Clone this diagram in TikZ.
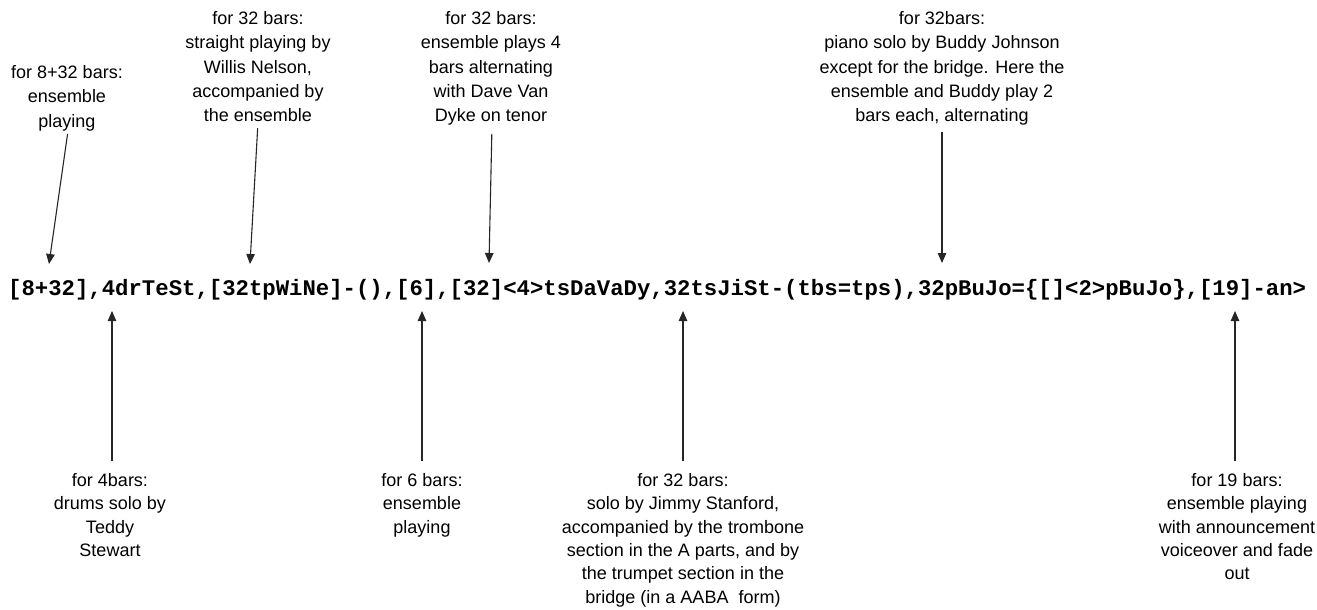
\documentclass[tikz,border=0pt]{standalone}
\usepackage{fontspec}
\usetikzlibrary{arrows.meta}
\newfontfamily\lblfont{Liberation Sans}
\newfontfamily\codefont{Liberation Mono}

\tikzset{
  lbl/.style={font=\lblfont\fontsize{18}{23.4}\selectfont, align=center, inner sep=0pt},
  toplbl/.style={lbl, font=\lblfont\fontsize{18}{24.4}\selectfont, anchor=north},
  botlbl/.style={lbl, anchor=north},
  code/.style={font=\codefont\bfseries\fontsize{22.3}{26}\selectfont, inner sep=0pt},
  arr/.style={line width=1.1pt, black!85, -{Triangle[length=10pt,width=8.5pt]}}
}

\begin{document}
\begin{tikzpicture}[x=1pt, y=-1pt]
    \fill[white] (0,0) rectangle (1317,610);
    \useasboundingbox (0,0) rectangle (1317,610);

    \node[code, anchor=base west] (form) at (8,295) {[8+32],4drTeSt,[32tpWiNe]-(),[6],[32]<4>tsDaVaDy,32tsJiSt-(tbs=tps),32pBuJo=\{[]<2>pBuJo\},[19]-an>};

    \node[toplbl] (intro) at (67,65) {for 8+32 bars:\\ensemble\\playing};
    \node[toplbl] (willis) at (258,11) {for 32 bars:\\straight playing by\\Willis Nelson,\\accompanied by\\the ensemble};
    \node[toplbl] (vandyke) at (491,11) {for 32 bars:\\ensemble plays 4\\bars alternating\\with Dave Van\\Dyke on tenor};
    \node[toplbl] (buddy) at (942,11) {for 32bars:\\piano solo by Buddy Johnson\\except for the bridge. Here the\\ensemble and Buddy play 2\\bars each, alternating};

    \node[botlbl] (teddy) at (110,473) {for 4bars:\\drums solo by\\Teddy\\Stewart};
    \node[botlbl] (sixbars) at (422,473) {for 6 bars:\\ensemble\\playing};
    \node[botlbl] (jimmy) at (683,473) {for 32 bars:\\solo by Jimmy Stanford,\\accompanied by the trombone\\section in the A parts, and by\\the trumpet section in the\\bridge (in a AABA\ \ form)};
    \node[botlbl] (outro) at (1237,473) {for 19 bars:\\ensemble playing\\with announcement\\voiceover and fade\\out};

    \coordinate (h1) at (49,264);
    \coordinate (h2) at (250,264);
    \coordinate (h3) at (489,263);
    \coordinate (h4) at (942,263);
    \coordinate (f1) at (112,311);
    \coordinate (f2) at (422,311);
    \coordinate (f3) at (683,311);
    \coordinate (f4) at (1235,311);

    \draw[arr, shorten <=3pt] ([xshift=1pt]intro.south) -- (h1);
    \draw[arr, shorten <=6pt] (willis.south) -- (h2);
    \draw[arr, shorten <=8pt] ([xshift=1pt]vandyke.south) -- (h3);
    \draw[arr, shorten <=6pt] (buddy.south) -- (h4);
    \draw[arr, shorten <=12pt] ([xshift=2pt]teddy.north) -- (f1);
    \draw[arr, shorten <=12pt] (sixbars.north) -- (f2);
    \draw[arr, shorten <=12pt] (jimmy.north) -- (f3);
    \draw[arr, shorten <=12pt] ([xshift=-2pt]outro.north) -- (f4);
\end{tikzpicture}
\end{document}
